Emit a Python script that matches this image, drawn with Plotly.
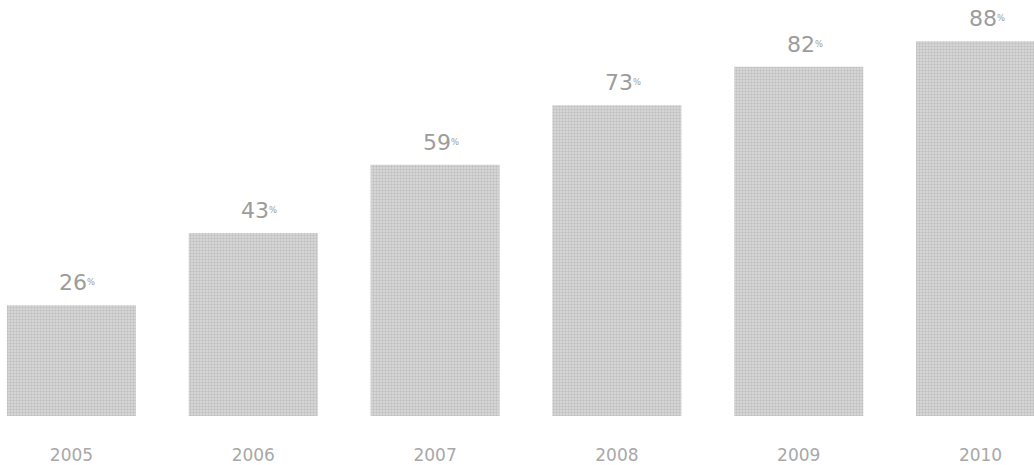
import plotly.graph_objects as go

years = ["2005", "2006", "2007", "2008", "2009", "2010"]
values = [26, 43, 59, 73, 82, 88]

fig = go.Figure()
fig.add_trace(go.Bar(
    x=list(range(len(years))), y=values,
    marker=dict(color="#d8d8d8", line=dict(width=0),
                pattern=dict(shape=".", fgcolor="#a4a4a4", bgcolor="#dcdcdc", size=3, solidity=0.5)),
    width=0.71, hoverinfo="skip",
))

for i, v in enumerate(values):
    fig.add_annotation(
        x=i, y=v, xref="x", yref="y",
        text=f"{v}<span style='font-size:12px'><sup>%</sup></span>",
        showarrow=False, yanchor="bottom", yshift=8, xshift=6,
        font=dict(family="DejaVu Sans", size=22, color="#9c9c9c"),
    )

fig.update_layout(
    width=1034, height=465,
    margin=dict(l=0, r=0, t=0, b=47),
    plot_bgcolor="white", paper_bgcolor="white",
    showlegend=False,
    xaxis=dict(range=[-0.393, 5.294], tickmode="array", tickvals=list(range(len(years))),
               ticktext=years, showgrid=False, zeroline=False, showline=False,
               ticks="", ticklabelstandoff=27,
               tickfont=dict(family="DejaVu Sans", size=17, color="#a8a8a8")),
    yaxis=dict(range=[0, 97.7], visible=False, showgrid=False, zeroline=False),
)

fig.write_html("out.html")
